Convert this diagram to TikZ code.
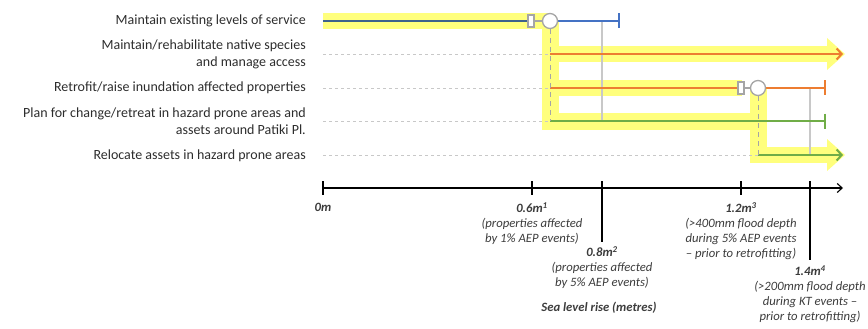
\documentclass[tikz,border=0pt]{standalone}
\usepackage{fontspec}
\setmainfont{Carlito}
\usetikzlibrary{arrows.meta}
\definecolor{hl}{RGB}{255,255,125}
\definecolor{cblue}{RGB}{68,114,196}
\definecolor{cblued}{RGB}{62,98,140}
\definecolor{corange}{RGB}{237,125,49}
\definecolor{cgreen}{RGB}{112,173,71}
\definecolor{cgray}{RGB}{165,165,165}
\definecolor{ltgray}{RGB}{200,200,200}
\definecolor{txt}{RGB}{45,45,45}
\definecolor{itx}{RGB}{60,60,60}
\tikzset{
  lbl/.style={anchor=east, inner sep=0pt, align=right, text=txt, font=\fontsize{14}{17}\selectfont},
  axl/.style={anchor=north, inner sep=0pt, align=center, text=itx, font=\fontsize{12.7}{15}\selectfont\itshape},
  sq/.style={draw=cgray, fill=white, line width=1.3pt, minimum width=6pt, minimum height=12pt, inner sep=0pt},
  cir/.style={draw=cgray, fill=white, line width=1.3pt, circle, minimum size=15pt, inner sep=0pt},
  cline/.style={line width=2pt},
  endbar/.style={-{Bar[width=15pt,line width=2pt]}},
  endarr/.style={-{Straight Barb[length=5pt,width=11pt,line width=2pt]}},
  gdash/.style={ltgray, line width=0.9pt, dash pattern=on 3pt off 3pt},
  gdash2/.style={cgray, line width=1pt, dash pattern=on 5pt off 4pt},
  gvert/.style={ltgray, line width=1.4pt},
  tick/.style={black, line width=1.1pt},
  hlfill/.style={fill=hl}
}
\begin{document}
\begin{tikzpicture}[x=1pt,y=-1pt]
\useasboundingbox (0,0) rectangle (868,329);
% highlights
\fill[hlfill] (323,13.5) rectangle (551,29);
\fill[hlfill] (542,21) rectangle (559,130);
\fill[hlfill] (559,46) rectangle (827,62);
\fill[hlfill] (827,38) -- (845,54) -- (827,70) -- cycle;
\fill[hlfill] (559,80) rectangle (742,96);
\fill[hlfill] (542,113) rectangle (752,130);
\fill[hlfill] (750,88) rectangle (767,163);
\fill[hlfill] (750,147) rectangle (827,163);
\fill[hlfill] (827,139) -- (845,155) -- (827,171) -- cycle;
% labels
\node[lbl] (l1) at (306,21) {Maintain existing levels of service};
\node[lbl] (l2) at (306,54.5) {Maintain/rehabilitate native species\\and manage access};
\node[lbl] (l3) at (306,88) {Retrofit/raise inundation affected properties};
\node[lbl] (l4) at (306,121.5) {Plan for change/retreat in hazard prone areas and\\assets around Patiki Pl.};
\node[lbl] (l5) at (306,156) {Relocate assets in hazard prone areas};
% coordinates
\coordinate (r1a) at (323,21);
\coordinate (r1b) at (620,21);
\coordinate (r2d) at (323,54);
\coordinate (r2a) at (550,54);
\coordinate (r2b) at (843,54);
\coordinate (r3d) at (323,88);
\coordinate (r3a) at (550,88);
\coordinate (r3b) at (826,88);
\coordinate (r4d) at (323,121);
\coordinate (r4a) at (550,121);
\coordinate (r4b) at (826,121);
\coordinate (r5d) at (323,155);
\coordinate (r5a) at (758,155);
\coordinate (r5b) at (843,155);
\coordinate (v1a) at (602,21);
\coordinate (v1b) at (602,121);
\coordinate (v2a) at (810,88);
\coordinate (v2b) at (810,155);
% dashed guides
\draw[gdash] (r2d) -- (r2a);
\draw[gdash] (r3d) -- (r3a);
\draw[gdash] (r4d) -- (r4a);
\draw[gdash] (r5d) -- (r5a);
% grey verticals
\draw[gvert] (v1a) -- (v1b);
\draw[gvert] (v2a) -- (v2b);
% row lines
\draw[cline, cblued] (r1a) -- (542,21);
\draw[cline, cblue, endbar] (542,21) -- (r1b);
\draw[cline, corange, endarr] (r2a) -- (r2b);
\draw[cline, corange, endbar] (r3a) -- (r3b);
\draw[cline, cgreen, endbar] (r4a) -- (r4b);
\draw[cline, cgreen, endarr] (r5a) -- (r5b);
% decision nodes
\node[sq] (s1) at (531,21) {};
\node[cir] (c1) at (550,21) {};
\node[sq] (s2) at (741,88) {};
\node[cir] (c2) at (758,88) {};
\draw[cgray, line width=1.3pt] (s1) -- (c1);
\draw[cgray, line width=1.3pt] (s2) -- (c2);
\draw[gdash2] (c1) -- (r4a);
\draw[gdash2] (c2) -- (r5a);
% axis
\coordinate (ax0) at (323,188);
\coordinate (axe) at (843,188);
\draw[line width=1.1pt, -{Straight Barb[length=5pt,width=9pt,line width=1.1pt]}] (ax0) -- (axe);
\coordinate (t0a) at (323,181); \coordinate (t0b) at (323,195);
\coordinate (t1a) at (532,181); \coordinate (t1b) at (532,195);
\coordinate (t2a) at (602,181); \coordinate (t2b) at (602,242);
\coordinate (t3a) at (741,181); \coordinate (t3b) at (741,195);
\coordinate (t4a) at (810,181); \coordinate (t4b) at (810,260);
\draw[tick] (t0a) -- (t0b);
\draw[tick] (t1a) -- (t1b);
\draw[tick] (t2a) -- (t2b);
\draw[tick] (t3a) -- (t3b);
\draw[tick] (t4a) -- (t4b);
% axis labels
\node[axl] (a0) at (323,202.5) {\textbf{0m}};
\node[axl] (a1) at (532,202.5) {\textbf{0.6m\textsuperscript{1}}\\(properties affected\\by 1\% AEP events)};
\node[axl] (a2) at (602,246) {\textbf{0.8m\textsuperscript{2}}\\(properties affected\\by 5\% AEP events)};
\node[axl] (a3) at (741,202.5) {\textbf{1.2m\textsuperscript{3}}\\(>400mm flood depth\\during 5\% AEP events\\– prior to retrofitting)};
\node[axl] (a4) at (810,265.5) {\textbf{1.4m\textsuperscript{4}}\\(>200mm flood depth\\during KT events –\\prior to retrofitting)};
\node[axl] (ax) at (599,301.5) {\textbf{Sea level rise (metres)}};
\end{tikzpicture}
\end{document}
